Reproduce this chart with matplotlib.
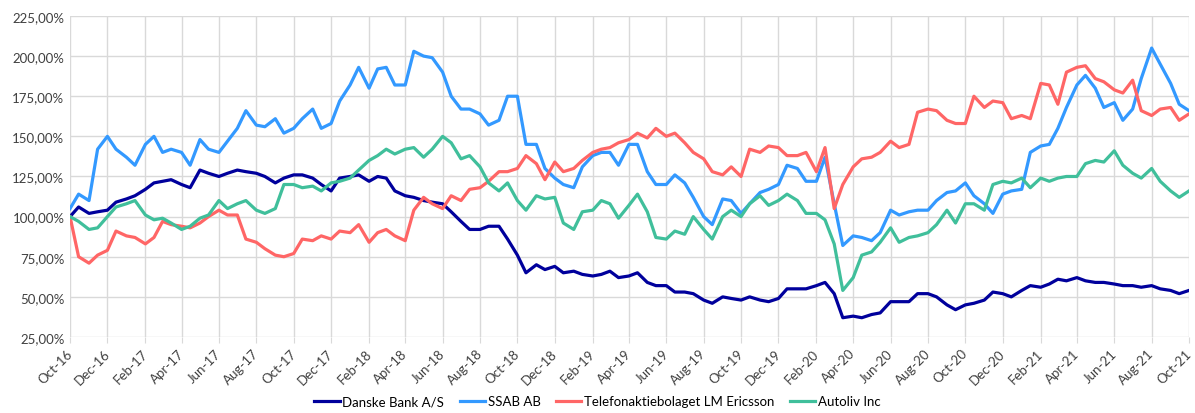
import matplotlib
matplotlib.use("Agg")
import matplotlib.pyplot as plt
import matplotlib.dates as mdates
import matplotlib.transforms as mtrans
from matplotlib.ticker import FuncFormatter
import pandas as pd

# half-month sampling points, Oct-16 .. Oct-21
dates = pd.date_range("2016-10-01", periods=121, freq="SMS")

danske = [100, 106, 102, 103, 104, 109, 111, 113, 117, 121,
          122, 123, 120, 118, 129, 127, 125, 127, 129, 128,
          127, 125, 121, 124, 126, 126, 124, 120, 116, 124,
          125, 126, 122, 125, 124, 116, 113, 112, 110, 109,
          108, 103, 97, 92, 92, 94, 94, 86, 76, 65,
          70, 67, 69, 65, 66, 64, 63, 64, 66, 62,
          63, 65, 59, 57, 57, 53, 53, 52, 48, 46,
          50, 49, 48, 50, 48, 47, 49, 55, 55, 55,
          57, 59, 52, 37, 38, 37, 39, 40, 47, 47,
          47, 52, 52, 50, 45, 42, 45, 46, 48, 53,
          52, 50, 54, 57, 56, 58, 61, 60, 62, 60,
          59, 59, 58, 57, 57, 56, 57, 55, 54, 52,
          54]

ssab = [105, 114, 110, 142, 150, 142, 137, 132, 145, 150,
        140, 142, 140, 132, 148, 142, 140, 147, 155, 166,
        157, 156, 161, 152, 155, 161, 167, 155, 158, 172,
        182, 193, 180, 192, 193, 182, 182, 203, 200, 199,
        190, 175, 167, 167, 164, 157, 160, 175, 175, 145,
        145, 130, 124, 120, 118, 131, 138, 140, 140, 132,
        145, 145, 128, 120, 120, 126, 121, 112, 100, 95,
        111, 110, 102, 108, 115, 117, 120, 132, 130, 122,
        122, 137, 108, 82, 88, 87, 85, 90, 104, 101,
        103, 104, 104, 110, 115, 116, 121, 113, 108, 102,
        114, 116, 117, 140, 144, 145, 155, 168, 182, 188,
        180, 168, 171, 160, 167, 186, 205, 195, 183, 170,
        166]

ericsson = [100, 75, 71, 76, 79, 91, 88, 87, 83, 87,
            97, 95, 94, 93, 96, 100, 104, 101, 101, 86,
            84, 80, 76, 75, 77, 86, 85, 88, 86, 91,
            90, 95, 84, 90, 92, 88, 85, 104, 112, 108,
            105, 113, 110, 117, 118, 122, 128, 128, 130, 138,
            133, 123, 134, 128, 130, 135, 140, 142, 143, 146,
            148, 152, 149, 155, 150, 152, 146, 140, 136, 128,
            126, 131, 125, 142, 140, 144, 143, 138, 138, 140,
            128, 143, 105, 120, 131, 136, 137, 140, 147, 143,
            145, 165, 167, 166, 160, 158, 158, 175, 168, 172,
            171, 161, 163, 161, 183, 182, 170, 190, 193, 194,
            186, 184, 179, 177, 185, 166, 163, 167, 168, 160,
            164]

autoliv = [100, 97, 92, 93, 100, 106, 108, 110, 101, 98,
           99, 96, 92, 94, 99, 101, 110, 105, 108, 110,
           104, 102, 105, 120, 120, 118, 119, 116, 121, 122,
           124, 129, 135, 138, 142, 139, 142, 143, 137, 142,
           150, 146, 136, 138, 131, 121, 116, 121, 110, 104,
           113, 111, 112, 96, 92, 103, 104, 110, 108, 99,
           107, 114, 103, 87, 86, 91, 89, 100, 92, 86,
           100, 104, 100, 108, 113, 107, 110, 114, 110, 102,
           102, 98, 83, 54, 62, 76, 78, 84, 93, 84,
           87, 88, 90, 95, 104, 96, 108, 108, 104, 120,
           122, 121, 124, 118, 124, 122, 124, 125, 125, 133,
           135, 134, 141, 132, 127, 124, 130, 122, 116, 112,
           116]

series = [
    ("Danske Bank A/S", danske, "#00009c"),
    ("SSAB AB", ssab, "#3399ff"),
    ("Telefonaktiebolaget LM Ericsson", ericsson, "#ff6666"),
    ("Autoliv Inc", autoliv, "#40bf9b"),
]

plt.rcParams["font.family"] = ["Lato", "DejaVu Sans"]

fig = plt.figure(figsize=(11.95, 4.14), dpi=100)
ax = fig.add_axes([0.0586, 0.1836, 0.9364, 0.7754])

for name, vals, col in series:
    ax.plot(dates, vals, color=col, lw=2.3, label=name)

ax.set_ylim(25, 225)
ax.set_yticks(range(25, 226, 25))
ax.yaxis.set_major_formatter(FuncFormatter(lambda v, p: f"{v:.2f}%".replace(".", ",")))
ax.set_xlim(pd.Timestamp("2016-10-01"), pd.Timestamp("2021-10-01"))
ax.xaxis.set_major_locator(mdates.MonthLocator(bymonth=[2, 4, 6, 8, 10, 12]))
ax.xaxis.set_major_formatter(mdates.DateFormatter("%b-%y"))

ax.grid(True, color="#d9d9d9", lw=1)
ax.set_axisbelow(True)
for s in ax.spines.values():
    s.set_visible(False)
ax.tick_params(axis="y", length=0, labelsize=9.5, labelcolor="#404040", pad=4)
ax.tick_params(axis="x", length=4, color="#d9d9d9", labelsize=9.5, labelcolor="#404040", pad=3)
shift = mtrans.ScaledTranslation(-4 / 100, 0, fig.dpi_scale_trans)
for lab in ax.get_xticklabels():
    lab.set_rotation(45)
    lab.set_ha("right")
    lab.set_va("top")
    lab.set_rotation_mode("anchor")
    lab.set_transform(lab.get_transform() + shift)

fig.legend(loc="lower center", bbox_to_anchor=(0.5, -0.015), ncol=4, frameon=False,
           fontsize=9.5, handlelength=1.9, columnspacing=1.2, handletextpad=0.2)

fig.savefig("out.png", dpi=100)
